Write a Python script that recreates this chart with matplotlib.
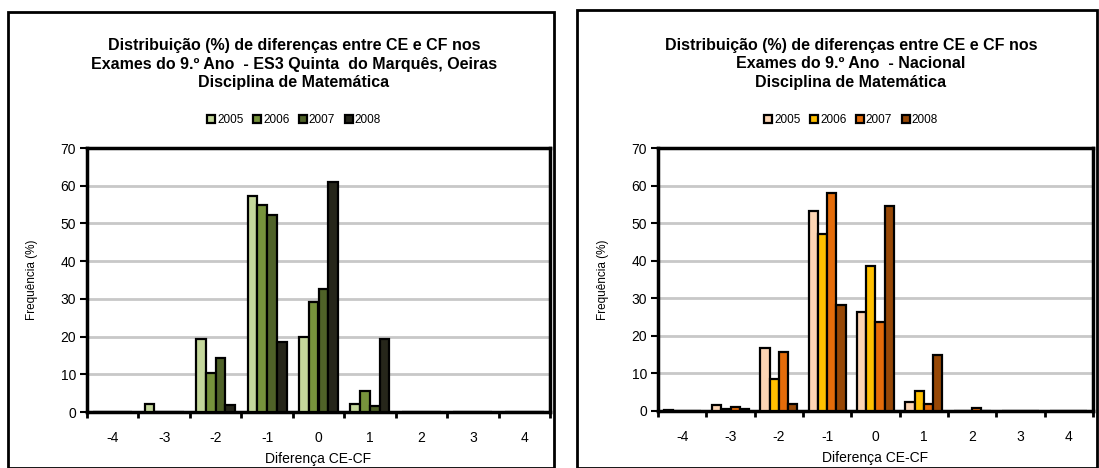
import matplotlib
matplotlib.use("Agg")
import matplotlib.pyplot as plt
from matplotlib.patches import Rectangle
import numpy as np

plt.rcParams['font.family'] = ['Liberation Sans', 'DejaVu Sans']

categories = ["-4", "-3", "-2", "-1", "0", "1", "2", "3", "4"]
years = ["2005", "2006", "2007", "2008"]

# ES3 Quinta do Marquês, Oeiras
es3_2005 = [0, 2.0, 19.3, 57.2, 20.0, 2.0, 0, 0, 0]
es3_2006 = [0, 0, 10.3, 55.0, 29.2, 5.7, 0, 0, 0]
es3_2007 = [0, 0, 14.2, 52.3, 32.7, 1.7, 0, 0, 0]
es3_2008 = [0, 0, 1.8, 18.6, 60.9, 19.3, 0, 0, 0]

# Nacional
nac_2005 = [0.2, 1.6, 16.7, 53.3, 26.4, 2.3, 0.1, 0.1, 0.1]
nac_2006 = [0.1, 0.6, 8.5, 47.1, 38.7, 5.4, 0.1, 0.1, 0.1]
nac_2007 = [0.1, 1.1, 15.7, 57.9, 23.8, 1.9, 0.8, 0.1, 0.1]
nac_2008 = [0.1, 0.4, 1.9, 28.2, 54.6, 14.9, 0.1, 0.1, 0.1]

colors_es3 = ["#C4D79B", "#77933C", "#4F6228", "#26261A"]
colors_nac = ["#FCD5B4", "#FFC000", "#E46C0A", "#974806"]

W, H = 1099, 468
fig = plt.figure(figsize=(W / 100, H / 100), dpi=100)


def fx(px):
    return px / W


def fy(py):
    return 1 - py / H


def panel(frame, axbox, title, series, colors, title_cx):
    fl, ft, fr = frame
    fig.patches.append(Rectangle((fx(fl), 0), fx(fr) - fx(fl), fy(ft), transform=fig.transFigure,
                                 fill=False, edgecolor='black', linewidth=2.0, clip_on=False))
    l, t, r, b = axbox
    ax = fig.add_axes([fx(l), fy(b), fx(r) - fx(l), fy(t) - fy(b)])
    x = np.arange(len(categories))
    w = 0.19
    for k, (vals, c, yr) in enumerate(zip(series, colors, years)):
        ax.bar(x + (k - 1.5) * w, vals, width=w, color=c, edgecolor='black',
               linewidth=1.6, label=yr, zorder=3)
    ax.set_xlim(-0.5, len(categories) - 0.5)
    ax.set_ylim(0, 70)
    ax.set_yticks(range(0, 71, 10))
    ax.yaxis.grid(True, color='#C8C8C8', linewidth=2.0, zorder=0)
    ax.set_axisbelow(True)
    ax.set_xticks(x)
    ax.set_xticklabels(categories, fontsize=10)
    ax.set_xticks(np.arange(-0.5, len(categories), 1), minor=True)
    ax.tick_params(axis='x', which='major', length=0, pad=14)
    ax.tick_params(axis='x', which='minor', length=4, width=2, direction='out')
    ax.tick_params(axis='y', length=5, width=1.5, direction='out', labelsize=10, pad=3)
    for s in ax.spines.values():
        s.set_linewidth(2.5)
        s.set_color('black')
    ax.set_xlabel("Diferença CE-CF", fontsize=10, labelpad=5)
    ax.set_ylabel("Frequência (%)", fontsize=8.5, labelpad=16)
    fig.text(fx(title_cx), fy(64), title, ha='center', va='center', fontsize=11.5,
             fontweight='bold', linespacing=1.3)
    ax.legend(loc='center', ncol=4, frameon=False, fontsize=8.5, handlelength=0.7,
              handleheight=0.7, handletextpad=0.15, columnspacing=0.8)
    leg = ax.get_legend()
    leg.set_bbox_to_anchor((fx(title_cx), fy(120)), transform=fig.transFigure)
    return ax


panel((8, 12, 554), (87, 148, 550, 412),
      "Distribuição (%) de diferenças entre CE e CF nos\nExames do 9.º Ano  - ES3 Quinta  do Marquês, Oeiras\nDisciplina de Matemática",
      [es3_2005, es3_2006, es3_2007, es3_2008], colors_es3, 294)

panel((577, 10, 1097), (658, 148, 1093, 411),
      "Distribuição (%) de diferenças entre CE e CF nos\nExames do 9.º Ano  - Nacional\nDisciplina de Matemática",
      [nac_2005, nac_2006, nac_2007, nac_2008], colors_nac, 851)

fig.savefig("out.png", dpi=100)
